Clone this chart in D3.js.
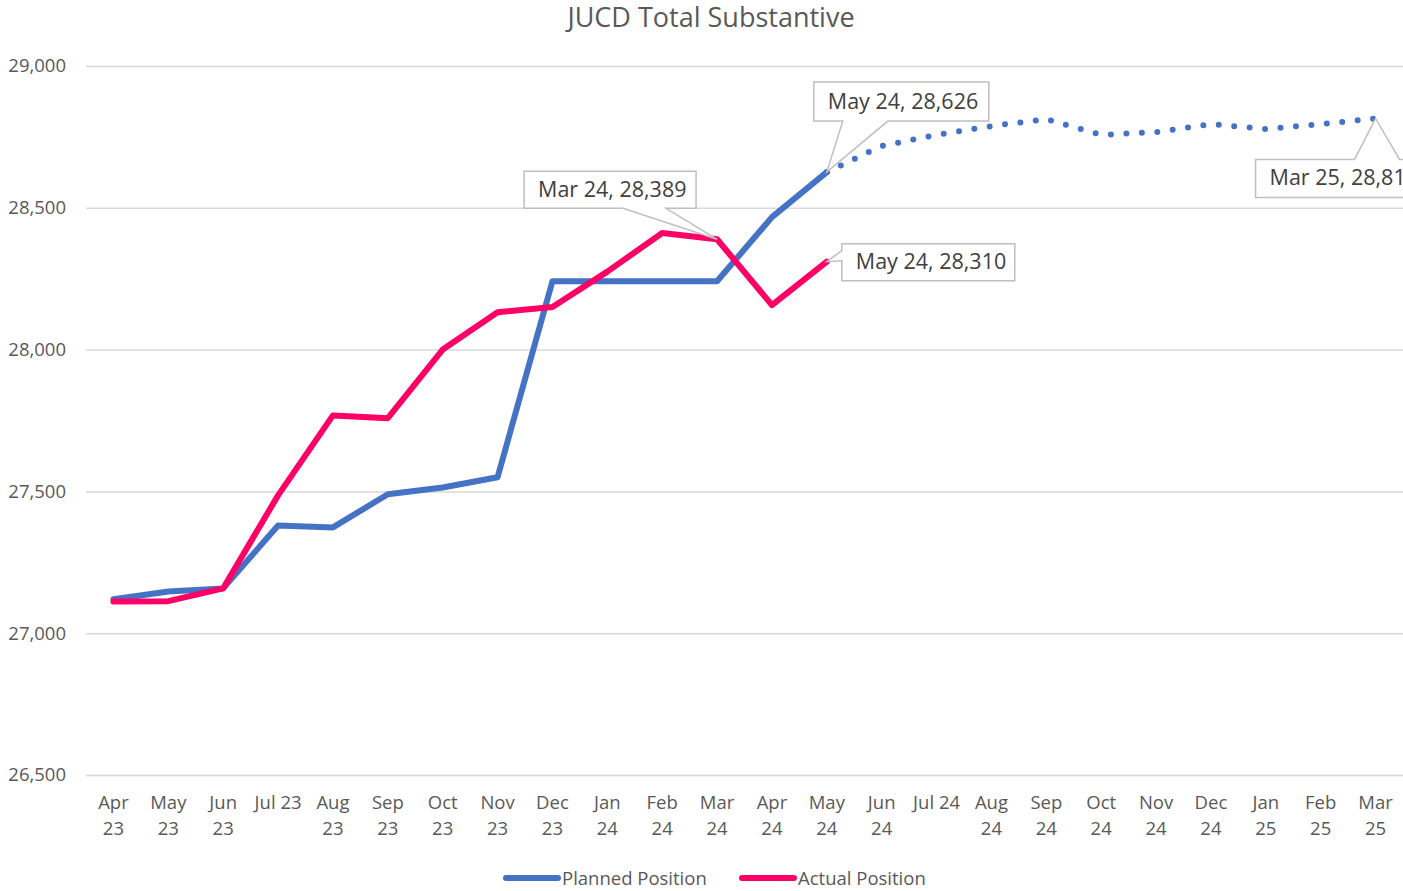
<!DOCTYPE html>
<html>
<head>
<meta charset="utf-8">
<script src="https://cdn.jsdelivr.net/npm/d3@7"></script>
<style>
  body { margin: 0; background: #fff; }
  text { font-family: "Open Sans", sans-serif; fill: #595959; }
</style>
</head>
<body>
<script>
// chart data
const categories = ['Apr 23', 'May 23', 'Jun 23', 'Jul 23', 'Aug 23', 'Sep 23', 'Oct 23', 'Nov 23',
  'Dec 23', 'Jan 24', 'Feb 24', 'Mar 24', 'Apr 24', 'May 24', 'Jun 24', 'Jul 24', 'Aug 24',
  'Sep 24', 'Oct 24', 'Nov 24', 'Dec 24', 'Jan 25', 'Feb 25', 'Mar 25'];
const tickLabels = ['Apr\n23', 'May\n23', 'Jun\n23', 'Jul 23', 'Aug\n23', 'Sep\n23', 'Oct\n23', 'Nov\n23',
  'Dec\n23', 'Jan\n24', 'Feb\n24', 'Mar\n24', 'Apr\n24', 'May\n24', 'Jun\n24', 'Jul 24', 'Aug\n24',
  'Sep\n24', 'Oct\n24', 'Nov\n24', 'Dec\n24', 'Jan\n25', 'Feb\n25', 'Mar\n25'];
const planned = [27120, 27147, 27158, 27380, 27373, 27490, 27514, 27550, 28241, 28241, 28241, 28241,
  28467, 28626, 28718, 28757, 28788, 28813, 28757, 28767, 28795, 28778, 28795, 28815];
const actual = [27112, 27113, 27158, 27486, 27768, 27758, 28000, 28132, 28150, 28275, 28411, 28389,
  28157, 28310];
const plannedSolidEnd = 13; // May 24: planned turns into a forecast after this
const yTicks = [26500, 27000, 27500, 28000, 28500, 29000];

(function init() {
  const width = 1403;
  const height = 891;
  const blue = '#4472C4';
  const red = '#FF0066';

  const svg = d3.select('body')
    .append('svg')
    .attr('width', width)
    .attr('height', height);

  const x = d3.scaleBand().domain(categories).range([86, 1403]);
  const cx = i => x(categories[i]) + x.bandwidth() / 2;
  const y = d3.scaleLinear().domain([26500, 29000]).range([775, 66]);

  svg.append('text')
    .attr('x', 711)
    .attr('y', 27)
    .attr('text-anchor', 'middle')
    .style('font-size', '27px')
    .text('JUCD Total Substantive');

  // grid + y labels
  const yAxis = svg.append('g')
    .attr('transform', 'translate(86,0)')
    .call(d3.axisLeft(y).tickValues(yTicks).tickSize(-(1403 - 86)).tickFormat(d3.format(',')));
  yAxis.select('.domain').remove();
  yAxis.selectAll('.tick line').attr('stroke', '#d9d9d9').attr('stroke-width', 1.5);
  yAxis.selectAll('.tick text')
    .attr('x', -20)
    .style('font-size', '18.5px')
    .style('fill', '#595959');

  // x labels
  const xAxis = svg.append('g')
    .attr('transform', 'translate(0,775)')
    .call(d3.axisBottom(x).tickSize(0).tickFormat(''));
  xAxis.select('.domain').attr('stroke', '#d9d9d9').attr('stroke-width', 1.5);
  xAxis.selectAll('.tick').each(function(d, i) {
    const lines = tickLabels[i].split('\n');
    const t = d3.select(this).append('text')
      .attr('text-anchor', 'middle')
      .style('font-size', '18.5px');
    lines.forEach((l, k) => {
      t.append('tspan').attr('x', 0).attr('y', 34 + k * 26).text(l);
    });
  });

  const line = d3.line()
    .x(d => cx(d.i))
    .y(d => y(d.v));

  const pts = arr => arr.map((v, i) => ({ i, v }));
  const plannedPts = pts(planned);

  svg.append('path')
    .attr('d', line(plannedPts.slice(0, plannedSolidEnd + 1)))
    .attr('fill', 'none')
    .attr('stroke', blue)
    .attr('stroke-width', 6)
    .attr('stroke-linejoin', 'round')
    .attr('stroke-linecap', 'round');

  svg.append('path')
    .attr('d', line(plannedPts.slice(plannedSolidEnd)))
    .attr('fill', 'none')
    .attr('stroke', blue)
    .attr('stroke-width', 6)
    .attr('stroke-linecap', 'round')
    .attr('stroke-dasharray', '0 15.5');

  svg.append('path')
    .attr('d', line(pts(actual)))
    .attr('fill', 'none')
    .attr('stroke', red)
    .attr('stroke-width', 6)
    .attr('stroke-linejoin', 'round')
    .attr('stroke-linecap', 'round');

  // data label callouts
  const fmt = d3.format(',');
  const callouts = [
    { arr: planned, i: 13, dx: -13, dy: -90, w: 175, h: 39, side: 'bottom', a: 29, b: 74 },
    { arr: actual, i: 11, dx: -193, dy: -68, w: 172, h: 37, side: 'bottom', a: 99, b: 142 },
    { arr: actual, i: 13, dx: 15, dy: -18, w: 173, h: 37, side: 'left', a: 7, b: 17 },
    { arr: planned, i: 23, dx: -120, dy: 41, w: 170, h: 38, side: 'top', a: 99, b: 144 }
  ];
  callouts.forEach(c => {
    const px = cx(c.i);
    const py = y(c.arr[c.i]);
    const bx = px + c.dx;
    const by = py + c.dy;
    let d;
    if (c.side === 'bottom') {
      d = `M${bx},${by}H${bx + c.w}V${by + c.h}H${bx + c.b}L${px},${py}L${bx + c.a},${by + c.h}H${bx}Z`;
    } else if (c.side === 'top') {
      d = `M${bx},${by}H${bx + c.a}L${px},${py}L${bx + c.b},${by}H${bx + c.w}V${by + c.h}H${bx}Z`;
    } else {
      d = `M${bx},${by}H${bx + c.w}V${by + c.h}H${bx}V${by + c.b}L${px},${py}L${bx},${by + c.a}Z`;
    }
    svg.append('path')
      .attr('d', d)
      .attr('fill', '#fff')
      .attr('stroke', '#bfbfbf')
      .attr('stroke-width', 1.5);
    svg.append('text')
      .attr('x', bx + 14)
      .attr('y', by + c.h / 2 + 7)
      .style('font-size', '21.5px')
      .style('fill', '#404040')
      .text(`${categories[c.i]}, ${fmt(c.arr[c.i])}`);
  });

  // legend
  const legend = [
    { name: 'Planned Position', color: blue, x: 503 },
    { name: 'Actual Position', color: red, x: 739 }
  ];
  legend.forEach(l => {
    svg.append('line')
      .attr('x1', l.x + 3).attr('x2', l.x + 55)
      .attr('y1', 878).attr('y2', 878)
      .attr('stroke', l.color)
      .attr('stroke-width', 6)
      .attr('stroke-linecap', 'round');
    svg.append('text')
      .attr('x', l.x + 59)
      .attr('y', 885)
      .style('font-size', '18.5px')
      .text(l.name);
  });
}());
</script>
</body>
</html>
